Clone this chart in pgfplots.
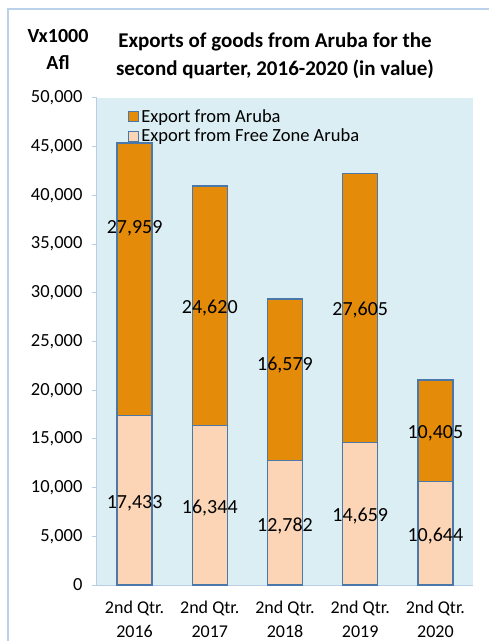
\documentclass[border=0pt]{standalone}
\usepackage{fontspec}
\setmainfont{Carlito}
\usepackage{pgfplots}
\pgfplotsset{compat=1.18}

\definecolor{arubaorange}{HTML}{E48B0A}
\definecolor{freezone}{HTML}{FBD5B5}
\definecolor{baredge}{HTML}{4A78A8}
\definecolor{plotbg}{HTML}{DBEEF4}
\definecolor{framecol}{HTML}{B9D1EA}
\definecolor{axiscol}{HTML}{B9CDE5}

\tikzset{dlab/.style={font=\fontsize{20}{22}\selectfont}}

\begin{document}
\begin{tikzpicture}
\useasboundingbox (0pt,0pt) rectangle (489pt,641pt);
\draw[framecol, line width=1.3pt] (8pt,0pt) -- (8pt,632pt) -- (489pt,632pt);

\node[font=\fontsize{21}{28}\selectfont\bfseries, align=center] at (275pt,585pt)
  {Exports of goods from Aruba for the\\second quarter, 2016-2020 (in value)};
\node[font=\fontsize{20}{27}\selectfont\bfseries, align=center] at (58pt,592pt)
  {Vx1000\\Afl};

\begin{axis}[
    at={(97pt,56pt)}, anchor=south west,
    width=376pt, height=487pt, scale only axis,
    ybar stacked,
    bar width=35pt,
    xmin=-0.5, xmax=4.5,
    ymin=0, ymax=50000,
    ytick={0,5000,...,50000},
    xtick={0,1,2,3,4},
    xticklabels={2nd Qtr.\\2016, 2nd Qtr.\\2017, 2nd Qtr.\\2018, 2nd Qtr.\\2019, 2nd Qtr.\\2020},
    axis x line*=bottom, axis y line*=left,
    axis line style={axiscol, line width=1pt},
    axis background/.style={fill=plotbg},
    major tick length=5pt,
    xtick style={draw=none},
    ytick style={color=axiscol, line width=1pt},
    tick align=outside,
    scaled y ticks=false,
    yticklabel style={font=\fontsize{18.5}{20}\selectfont, xshift=-6pt},
    /pgf/number format/.cd, fixed, 1000 sep={,}, assume math mode=true, /pgfplots/.cd,
    xticklabel style={font=\fontsize{18}{24}\selectfont, align=center, yshift=-7pt},
    reverse legend,
    legend style={at={(0.075,0.985)}, anchor=north west, draw=none, fill=none,
        font=\fontsize{18.5}{20}\selectfont, row sep=1pt},
    legend cell align=left,
    legend image code/.code={\draw[#1, line width=0.9pt] (0pt,-5pt) rectangle (10pt,5pt);},
]
\addplot[fill=freezone, draw=baredge, line width=1.3pt] coordinates {
    (0,17433) (1,16344) (2,12782) (3,14659) (4,10644)};
\addlegendentry{Export from Free Zone Aruba}
\addplot[fill=arubaorange, draw=baredge, line width=1.3pt] coordinates {
    (0,27959) (1,24620) (2,16579) (3,27605) (4,10405)};
\addlegendentry{Export from Aruba}

\coordinate (b0) at (axis cs:0,8400);
\coordinate (b1) at (axis cs:1,7900);
\coordinate (b2) at (axis cs:2,6100);
\coordinate (b3) at (axis cs:3,7050);
\coordinate (b4) at (axis cs:4,5050);
\coordinate (t0) at (axis cs:0,36600);
\coordinate (t1) at (axis cs:1,28400);
\coordinate (t2) at (axis cs:2,22600);
\coordinate (t3) at (axis cs:3,28200);
\coordinate (t4) at (axis cs:4,15600);
\end{axis}

\node[dlab] at (b0) {17,433};
\node[dlab] at (b1) {16,344};
\node[dlab] at (b2) {12,782};
\node[dlab] at (b3) {14,659};
\node[dlab] at (b4) {10,644};
\node[dlab] at (t0) {27,959};
\node[dlab] at (t1) {24,620};
\node[dlab] at (t2) {16,579};
\node[dlab] at (t3) {27,605};
\node[dlab] at (t4) {10,405};
\end{tikzpicture}
\end{document}
